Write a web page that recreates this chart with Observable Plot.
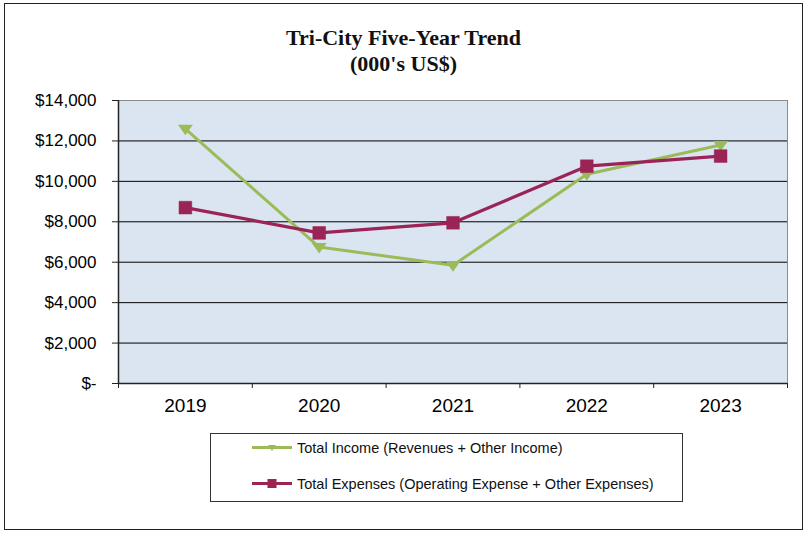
<!DOCTYPE html>
<html>
<head>
<meta charset="utf-8">
<script src="https://cdn.jsdelivr.net/npm/d3@7"></script>
<script src="https://cdn.jsdelivr.net/npm/@observablehq/plot@0.6"></script>
<style>
  html, body { margin: 0; padding: 0; background: #fff; }
  #wrap { position: relative; width: 807px; height: 533px; overflow: hidden; background: #fff; }
  #border { position: absolute; left: 4px; top: 3px; width: 797px; height: 525px; border: 1px solid #222; }
  #title { position: absolute; left: 0; top: 25px; width: 807px; text-align: center;
           font-family: "Liberation Serif", "Times New Roman", serif; font-weight: bold;
           font-size: 22px; line-height: 26px; color: #111; }
  #chart { position: absolute; left: 0; top: 0; }
  #legend { position: absolute; left: 210px; top: 433px; width: 471px; height: 67px;
            border: 1px solid #333; background: #fff;
            font-family: "Liberation Sans", Arial, sans-serif; font-size: 14.5px; color: #111; }
  .item { position: absolute; left: 41px; display: flex; align-items: center; }
  .item svg { margin-right: 5px; }
</style>
</head>
<body>
<div id="wrap">
  <div id="border"></div>
  <div id="chart"></div>
  <div id="title">Tri-City Five-Year Trend<br>(000's US$)</div>
  <div id="legend"></div>
</div>
<script>
// ---- data ----
const years = [2019, 2020, 2021, 2022, 2023];
const totalIncome = [12600, 6750, 5850, 10350, 11800];
const totalExpenses = [8700, 7450, 7950, 10750, 11250];
const yTicks = [0, 2000, 4000, 6000, 8000, 10000, 12000, 14000];
const seriesNames = ["Total Income (Revenues + Other Income)", "Total Expenses (Operating Expense + Other Expenses)"];

const GREEN = "#9bbb59";
const MAROON = "#9b2456";

const incomeData = years.map((y, i) => ({year: y, value: totalIncome[i]}));
const expenseData = years.map((y, i) => ({year: y, value: totalExpenses[i]}));
const boundaries = [years[0] - 0.5, ...years.map(y => y + 0.5)];

const downTriangle = {
  draw(context, size) {
    const r = Math.sqrt(size / Math.PI);
    context.moveTo(-r, -r * 0.55);
    context.lineTo(r, -r * 0.55);
    context.lineTo(0, r * 0.85);
    context.closePath();
  }
};

const fmt = v => v === 0 ? "$-" : "$" + d3.format(",")(v);

const chart = Plot.plot({
  width: 807,
  height: 533,
  marginTop: 100,
  marginBottom: 150,
  marginLeft: 118,
  marginRight: 20,
  style: {background: "transparent", fontFamily: "'Liberation Sans', Arial, sans-serif", color: "#000"},
  x: {type: "linear", domain: [years[0] - 0.5, years[years.length - 1] + 0.5]},
  y: {domain: [0, 14000]},
  marks: [
    Plot.frame({fill: "#dbe5f1", stroke: "#8c8c8c"}),
    Plot.ruleY(yTicks.filter(v => v > 0 && v < 14000), {stroke: "#000", strokeWidth: 1}),
    Plot.ruleY([0], {stroke: "#222", strokeWidth: 1.5}),
    Plot.ruleX([boundaries[0]], {stroke: "#222", strokeWidth: 1.5}),
    Plot.axisY({ticks: yTicks, tickFormat: fmt, tickSize: 6, tickPadding: 16, fontSize: 17, label: null, stroke: "#222"}),
    Plot.axisX({ticks: boundaries, tickFormat: () => "", tickSize: 5, label: null, stroke: "#222"}),
    Plot.axisX({ticks: years, tickFormat: d => String(d), tickSize: 0, tickPadding: 15, fontSize: 19, label: null}),
    Plot.line(incomeData, {x: "year", y: "value", stroke: GREEN, strokeWidth: 3}),
    Plot.dot(incomeData, {x: "year", y: "value", symbol: downTriangle, r: 6, fill: GREEN, stroke: GREEN}),
    Plot.line(expenseData, {x: "year", y: "value", stroke: MAROON, strokeWidth: 3.2}),
    Plot.dot(expenseData, {x: "year", y: "value", symbol: "square", r: 7.2, fill: MAROON, stroke: MAROON, strokeWidth: 0.5})
  ]
});
document.getElementById("chart").appendChild(chart);

// ---- legend ----
const legend = document.getElementById("legend");
const items = [
  {name: seriesNames[0], color: GREEN, marker: "tri", top: 6},
  {name: seriesNames[1], color: MAROON, marker: "sq", top: 42}
];
for (const it of items) {
  const div = document.createElement("div");
  div.className = "item";
  div.style.top = it.top + "px";
  const m = it.marker === "tri"
    ? `<path d="M16,4 L24,4 L20,10 Z" fill="${it.color}"/>`
    : `<rect x="15.5" y="2" width="9" height="9" fill="${it.color}"/>`;
  div.innerHTML = `<svg width="40" height="14"><line x1="0" x2="40" y1="6.5" y2="6.5" stroke="${it.color}" stroke-width="3"/>${m}</svg><span>${it.name}</span>`;
  legend.appendChild(div);
}
</script>
</body>
</html>
